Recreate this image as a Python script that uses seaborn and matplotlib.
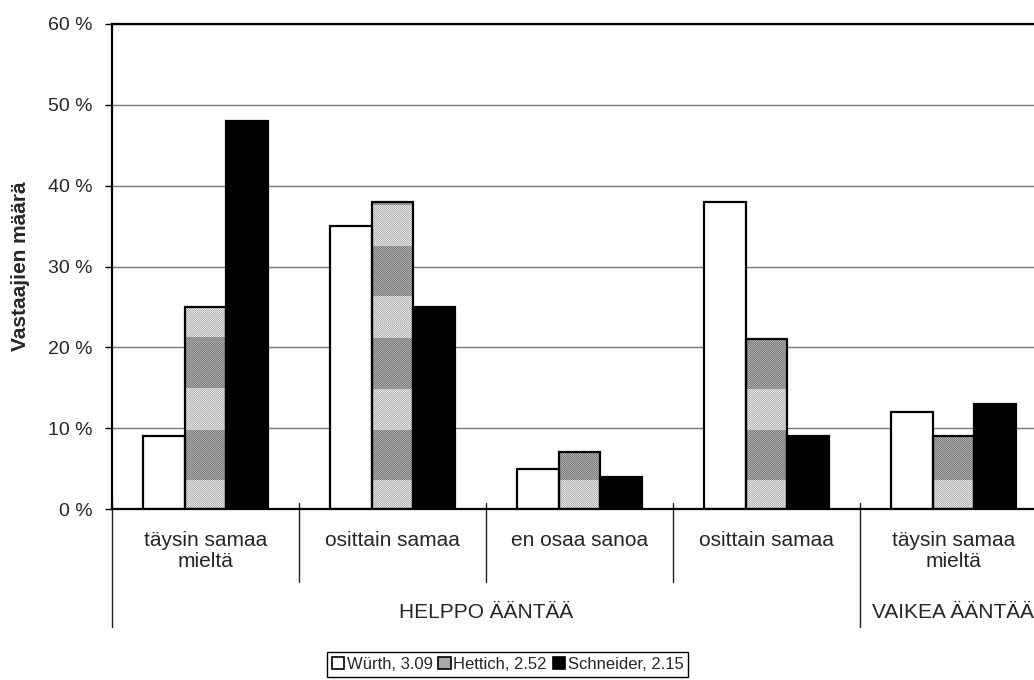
import numpy as np
import pandas as pd
import matplotlib
matplotlib.use("Agg")
import matplotlib.pyplot as plt
import matplotlib.transforms as mtransforms
from matplotlib.patches import Patch
import seaborn as sns

# Survey answers: share of respondents (%) per answer, three hinge brands
categories = ["täysin samaa\nmieltä", "osittain samaa", "en osaa sanoa",
              "osittain samaa", "täysin samaa\nmieltä"]
groups = ["HELPPO ÄÄNTÄÄ", "VAIKEA ÄÄNTÄÄ"]
group_spans = [(0, 3), (4, 4)]          # first / last category index of each group
series = ["Würth, 3.09", "Hettich, 2.52", "Schneider, 2.15"]
wurth = [9, 35, 5, 38, 12]
hettich = [25, 38, 7, 21, 9]
schneider = [48, 25, 4, 9, 13]
y_ticks = [0, 10, 20, 30, 40, 50, 60]
y_label = "Vastaajien määrä"

sns.set_theme(style="white")
plt.rcParams["font.family"] = ["Liberation Sans", "DejaVu Sans"]

keys = [f"c{i}" for i in range(len(categories))]
df = pd.DataFrame({
    "key": keys * 3,
    "series": np.repeat(series, len(categories)),
    "value": wurth + hettich + schneider,
})

fig = plt.figure(figsize=(10.34, 6.8), dpi=100)
ax = fig.add_axes([112 / 1034, 1 - 509 / 680, 935 / 1034, 485 / 680])

palette = ["white", "#a8a8a8", "black"]
sns.barplot(data=df, x="key", y="value", hue="series", order=keys,
            hue_order=series, palette=palette, saturation=1,
            edgecolor="black", linewidth=1.6, width=0.667, gap=0,
            legend=False, ax=ax)

# banded halftone fill for the middle series: light/dark bands with a fine dither
rows, cols = 485, 42
yy = (np.arange(rows) + 0.5) / rows * 60
base = np.where(((yy + 1.5) % 11.3) < 5.1, 0.80, 0.58)[:, None]
ii, jj = np.indices((rows, cols))
dither = np.where((ii + jj) % 2 == 0, 0.09, -0.09)
texture = np.clip(base + dither, 0, 1)
for p in ax.containers[1]:
    x0, w = p.get_x(), p.get_width()
    im = ax.imshow(texture, extent=(x0, x0 + w, 0, 60), origin="lower",
                   cmap="gray", vmin=0, vmax=1, aspect="auto",
                   interpolation="nearest", zorder=p.get_zorder() - 0.05)
    im.set_clip_path(p)
    p.set_facecolor("none")

ax.set_xlim(-0.5, len(categories) - 0.5)
ax.set_ylim(0, 60)
ax.set_aspect("auto")

# y axis
ax.set_yticks(y_ticks)
ax.set_yticklabels([f"{v} %" for v in y_ticks], fontsize=14)
ax.tick_params(axis="y", direction="out", length=5, width=1, pad=9,
               color="black", left=True)
ax.set_axisbelow(True)
ax.yaxis.grid(True, color="#7a7a7a", linewidth=1)
ax.set_ylabel(y_label, fontsize=15, fontweight="bold")
ax.yaxis.set_label_coords(-0.088, 0.5)

# x axis: category labels
ax.set_xlabel("")
ax.set_xticks(range(len(categories)))
ax.set_xticklabels(categories, fontsize=15, linespacing=1.1)
ax.tick_params(axis="x", length=0, pad=16)

for side in ["left", "top", "bottom", "right"]:
    ax.spines[side].set_color("black")
    ax.spines[side].set_linewidth(1.6)

# category separators and group labels below the axis
trans = mtransforms.blended_transform_factory(ax.transData, ax.transAxes)
group_edges = {g0 - 0.5 for g0, _ in group_spans} | {g1 + 0.5 for _, g1 in group_spans}
for i in range(len(categories) + 1):
    xb = i - 0.5
    y_end = -0.243 if xb in group_edges else -0.1505
    ax.plot([xb, xb], [0.012, y_end], transform=trans, color="#222222",
            linewidth=1, clip_on=False)
for name, (g0, g1) in zip(groups, group_spans):
    ax.text((g0 + g1) / 2, -0.2247, name, transform=trans, ha="center",
            va="baseline", fontsize=15, clip_on=False)

# legend
handles = [Patch(facecolor=c, edgecolor="black", linewidth=1.2) for c in palette]
leg = fig.legend(handles, series, loc="center", bbox_to_anchor=(0.4908, 0.0228),
                 ncol=3, frameon=True, fancybox=False, framealpha=1,
                 edgecolor="black", fontsize=12, handlelength=0.75,
                 handleheight=0.75, handletextpad=0.15, columnspacing=0.35,
                 borderpad=0.3, borderaxespad=0)
leg.get_frame().set_linewidth(1)

fig.savefig("out.png", dpi=100)
